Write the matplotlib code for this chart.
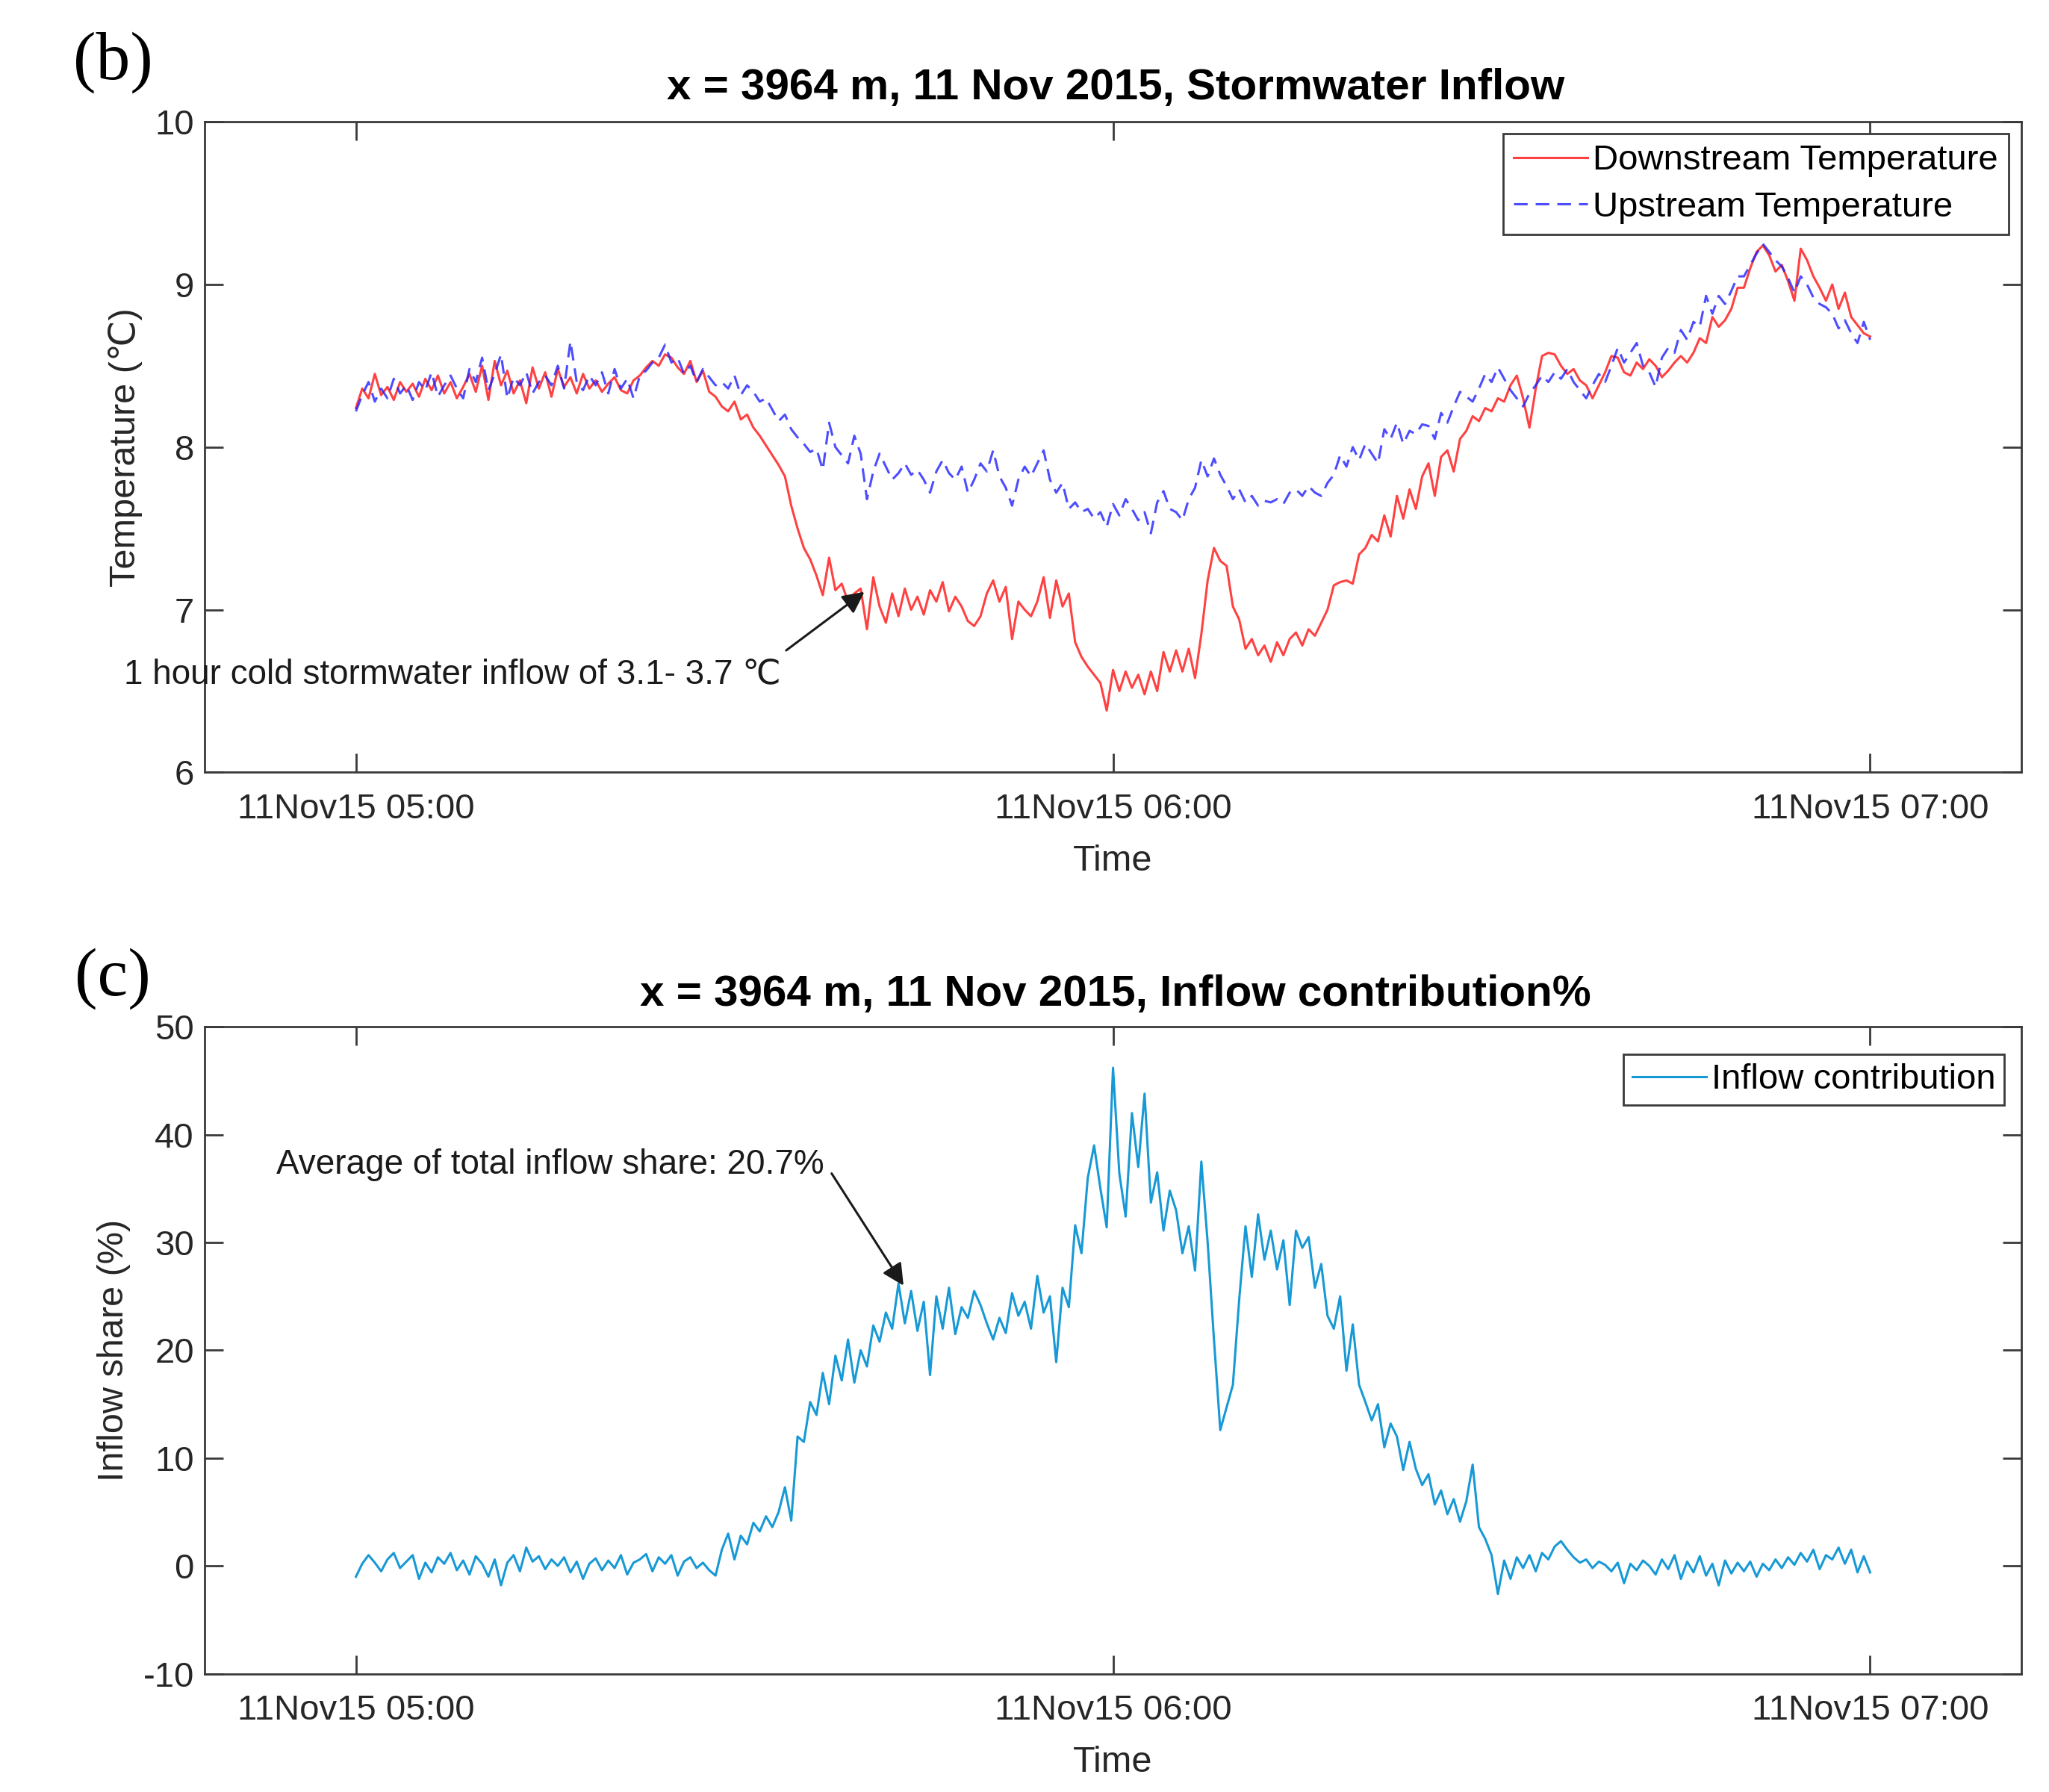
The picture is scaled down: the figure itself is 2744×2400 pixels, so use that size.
import numpy as np
import matplotlib
matplotlib.use('Agg')
import matplotlib.pyplot as plt
import matplotlib.dates as mdates

plt.rcParams['font.family'] = ['Liberation Sans', 'DejaVu Sans']
plt.rcParams['axes.unicode_minus'] = False

# samples every 30 s from 05:00 to 07:00 on 11 Nov 2015
times = np.arange(np.datetime64('2015-11-11T05:00:00'),
                  np.datetime64('2015-11-11T07:00:30'),
                  np.timedelta64(30, 's'))

# downstream temperature (degC)
downstream = [
    8.24, 8.36, 8.30, 8.45, 8.32, 8.37, 8.29, 8.40, 8.34, 8.39,
    8.31, 8.42, 8.35, 8.44, 8.33, 8.40, 8.30, 8.37, 8.45, 8.34,
    8.50, 8.29, 8.53, 8.38, 8.47, 8.33, 8.41, 8.27, 8.49, 8.36,
    8.46, 8.31, 8.48, 8.37, 8.43, 8.33, 8.45, 8.36, 8.41, 8.34,
    8.39, 8.43, 8.35, 8.33, 8.41, 8.44, 8.49, 8.53, 8.50, 8.57,
    8.55, 8.49, 8.45, 8.53, 8.40, 8.47, 8.34, 8.31, 8.25, 8.22,
    8.28, 8.17, 8.20, 8.12, 8.07, 8.01, 7.95, 7.89, 7.82, 7.64,
    7.50, 7.38, 7.31, 7.21, 7.09, 7.32, 7.12, 7.16, 7.05, 7.10,
    7.13, 6.88, 7.20, 7.02, 6.92, 7.10, 6.96, 7.13, 7.00, 7.08,
    6.97, 7.12, 7.05, 7.17, 6.99, 7.08, 7.02, 6.93, 6.90, 6.96,
    7.10, 7.18, 7.05, 7.14, 6.82, 7.05, 7.00, 6.96, 7.05, 7.20,
    6.95, 7.18, 7.02, 7.10, 6.80, 6.71, 6.65, 6.60, 6.55, 6.38,
    6.63, 6.50, 6.62, 6.52, 6.60, 6.48, 6.62, 6.50, 6.74, 6.62,
    6.75, 6.62, 6.76, 6.58, 6.85, 7.18, 7.38, 7.30, 7.27, 7.02,
    6.94, 6.76, 6.82, 6.72, 6.78, 6.68, 6.80, 6.72, 6.82, 6.86,
    6.78, 6.88, 6.84, 6.92, 7.00, 7.15, 7.17, 7.18, 7.16, 7.34,
    7.38, 7.46, 7.42, 7.58, 7.45, 7.70, 7.56, 7.74, 7.62, 7.82,
    7.90, 7.70, 7.94, 7.98, 7.85, 8.05, 8.10, 8.19, 8.16, 8.24,
    8.22, 8.30, 8.28, 8.38, 8.44, 8.30, 8.12, 8.36, 8.56, 8.58,
    8.57, 8.50, 8.45, 8.48, 8.41, 8.38, 8.30, 8.38, 8.46, 8.56,
    8.55, 8.46, 8.44, 8.52, 8.48, 8.54, 8.50, 8.43, 8.47, 8.52,
    8.56, 8.52, 8.58, 8.67, 8.64, 8.80, 8.74, 8.78, 8.85, 8.98,
    8.98, 9.10, 9.20, 9.24, 9.18, 9.08, 9.12, 9.02, 8.90, 9.22,
    9.15, 9.05, 8.98, 8.90, 9.00, 8.85, 8.95, 8.80, 8.75, 8.70,
    8.68,
]

# upstream temperature (degC)
upstream = [
    8.22, 8.32, 8.40, 8.28, 8.36, 8.30, 8.42, 8.33, 8.38, 8.29,
    8.40, 8.35, 8.46, 8.31, 8.38, 8.44, 8.36, 8.30, 8.48, 8.40,
    8.55, 8.35, 8.45, 8.57, 8.30, 8.43, 8.38, 8.46, 8.33, 8.40,
    8.44, 8.38, 8.50, 8.36, 8.65, 8.40, 8.35, 8.44, 8.38, 8.46,
    8.33, 8.48, 8.36, 8.42, 8.30, 8.44, 8.47, 8.52, 8.55, 8.63,
    8.52, 8.55, 8.45, 8.50, 8.40, 8.48, 8.43, 8.38, 8.40, 8.36,
    8.44, 8.32, 8.38, 8.34, 8.28, 8.30, 8.23, 8.16, 8.20, 8.11,
    8.06, 8.02, 7.97, 7.99, 7.86, 8.15, 8.00, 7.95, 7.90, 8.07,
    7.96, 7.68, 7.85, 7.96, 7.88, 7.80, 7.84, 7.90, 7.83, 7.86,
    7.80, 7.72, 7.85, 7.92, 7.84, 7.80, 7.88, 7.72, 7.80, 7.90,
    7.85, 7.98, 7.82, 7.75, 7.64, 7.80, 7.88, 7.82, 7.90, 7.98,
    7.80, 7.72, 7.78, 7.62, 7.66, 7.60, 7.62, 7.56, 7.60, 7.51,
    7.65, 7.58, 7.68, 7.62, 7.55, 7.60, 7.47, 7.66, 7.73, 7.62,
    7.60, 7.55, 7.68, 7.75, 7.92, 7.82, 7.93, 7.83, 7.76, 7.68,
    7.74, 7.66, 7.70, 7.64, 7.67, 7.66, 7.68, 7.65, 7.72, 7.74,
    7.70, 7.76, 7.72, 7.70, 7.78, 7.83, 7.95, 7.88, 8.00, 7.92,
    8.02, 7.96, 7.90, 8.11, 8.05, 8.15, 8.02, 8.10, 8.08, 8.14,
    8.13, 8.05, 8.21, 8.15, 8.25, 8.34, 8.31, 8.28, 8.36, 8.45,
    8.40, 8.49, 8.42, 8.35, 8.30, 8.25, 8.33, 8.38, 8.44, 8.40,
    8.46, 8.42, 8.48, 8.40, 8.35, 8.30, 8.38, 8.45, 8.40, 8.50,
    8.61, 8.52, 8.58, 8.64, 8.50, 8.46, 8.37, 8.55, 8.61, 8.58,
    8.72, 8.66, 8.77, 8.74, 8.93, 8.82, 8.93, 8.88, 8.96, 9.05,
    9.05, 9.12, 9.19, 9.25, 9.20, 9.15, 9.11, 9.04, 8.95, 9.05,
    9.00, 8.92, 8.88, 8.86, 8.82, 8.73, 8.78, 8.70, 8.64, 8.77,
    8.66,
]

# inflow share (%)
inflow = [
    -1.0, 0.2, 1.0, 0.3, -0.5, 0.6, 1.2, -0.2, 0.4, 1.0,
    -1.2, 0.3, -0.6, 0.8, 0.2, 1.2, -0.4, 0.5, -0.8, 0.9,
    0.2, -1.0, 0.6, -1.8, 0.3, 1.0, -0.5, 1.7, 0.4, 0.9,
    -0.3, 0.6, 0.0, 0.8, -0.6, 0.4, -1.2, 0.2, 0.7, -0.4,
    0.5, -0.2, 1.0, -0.8, 0.3, 0.6, 1.1, -0.5, 0.8, 0.2,
    1.0, -0.9, 0.4, 0.8, -0.2, 0.3, -0.4, -0.9, 1.5, 3.0,
    0.6, 2.8, 2.0, 4.0, 3.2, 4.6, 3.6, 5.0, 7.3, 4.2,
    12.0, 11.5, 15.2, 14.0, 17.9, 15.0, 19.5, 17.2, 21.0, 17.0,
    20.0, 18.5, 22.3, 20.8, 23.5, 22.0, 26.2, 22.5, 25.5, 21.8,
    24.5, 17.7, 25.0, 22.0, 25.8, 21.5, 24.0, 23.0, 25.5, 24.2,
    22.5, 21.0, 23.0, 21.6, 25.3, 23.2, 24.5, 22.0, 26.9, 23.5,
    25.0, 18.9, 25.8, 24.0, 31.6, 29.0, 36.0, 39.0, 35.0, 31.4,
    46.2, 36.4, 32.4, 42.0, 37.0, 43.8, 33.7, 36.5, 31.1, 34.8,
    33.0, 29.0, 31.5, 27.4, 37.5, 30.0, 21.0, 12.6, 14.7, 16.8,
    24.7, 31.5, 26.8, 32.6, 28.4, 31.1, 27.5, 30.2, 24.2, 31.1,
    29.5, 30.5, 25.8, 28.0, 23.2, 22.0, 25.0, 18.1, 22.4, 16.8,
    15.2, 13.5, 15.0, 11.0, 13.2, 12.0, 8.9, 11.5, 9.0, 7.5,
    8.5, 5.7, 7.0, 4.8, 6.2, 4.1, 6.0, 9.4, 3.6, 2.5,
    1.0, -2.6, 0.5, -1.2, 0.8, -0.2, 1.0, -0.5, 1.2, 0.6,
    1.8, 2.3, 1.5, 0.8, 0.3, 0.6, -0.2, 0.4, 0.1, -0.5,
    0.3, -1.6, 0.2, -0.4, 0.5, 0.0, -0.8, 0.6, -0.3, 1.0,
    -1.2, 0.4, -0.6, 0.9, -0.9, 0.2, -1.8, 0.5, -0.7, 0.3,
    -0.5, 0.4, -1.0, 0.2, -0.4, 0.6, -0.2, 0.8, 0.1, 1.2,
    0.4, 1.5, -0.3, 1.0, 0.6, 1.7, 0.2, 1.5, -0.6, 0.9,
    -0.6,
]

xticks = [np.datetime64('2015-11-11T05:00'), np.datetime64('2015-11-11T06:00'),
          np.datetime64('2015-11-11T07:00')]
xmin = np.datetime64('2015-11-11T04:48')
xmax = np.datetime64('2015-11-11T07:12')

# annotation anchor points (time, value)
temp_arrow_tip = (np.datetime64('2015-11-11T05:40:18'), 7.11)
temp_arrow_tail = (np.datetime64('2015-11-11T05:34:06'), 6.75)
temp_text_pos = (np.datetime64('2015-11-11T04:41:36'), 6.60)
share_arrow_tip = (np.datetime64('2015-11-11T05:43:24'), 26.0)
share_arrow_tail = (np.datetime64('2015-11-11T05:37:42'), 36.4)
share_text_pos = (np.datetime64('2015-11-11T04:53:42'), 37.2)

fig = plt.figure(figsize=(13.72, 12), dpi=200)
ax1 = fig.add_axes([0.0998, 0.569, 0.8868, 0.363])
ax2 = fig.add_axes([0.0998, 0.066, 0.8868, 0.361])

tick_color = '#262626'
spine_color = '#3a3a3a'


def style_axes(ax):
    ax.set_xlim(xmin, xmax)
    ax.set_xticks(xticks)
    ax.xaxis.set_major_formatter(mdates.DateFormatter('%d%b%y %H:%M'))
    ax.tick_params(direction='in', top=True, right=True, length=9, width=1.0,
                   labelsize=17, colors=spine_color, labelcolor=tick_color)
    ax.tick_params(axis='x', pad=10)
    ax.tick_params(axis='y', pad=5)
    for s in ax.spines.values():
        s.set_color(spine_color)
        s.set_linewidth(1.0)
    ax.set_xlabel('Time', fontsize=17.5, color=tick_color, labelpad=9)


# (b) temperatures
ax1.plot(times, downstream, color='#ff2020', lw=1.1, alpha=0.85,
         label='Downstream Temperature')
ax1.plot(times, upstream, color='#2020ff', lw=1.1, alpha=0.8,
         linestyle=(0, (6, 3.5)), label='Upstream Temperature')
style_axes(ax1)
ax1.set_ylim(6, 10)
ax1.set_yticks([6, 7, 8, 9, 10])
ax1.set_ylabel('Temperature (\u2103)', fontsize=17.5, color=tick_color)
ax1.yaxis.set_label_coords(-0.034, 0.5)
leg1 = ax1.legend(loc='upper right', bbox_to_anchor=(0.9928, 0.982),
                  fontsize=17, frameon=True, fancybox=False,
                  edgecolor='#3a3a3a', framealpha=1, borderaxespad=0,
                  handlelength=2.1, handletextpad=0.15, borderpad=0.3,
                  labelspacing=0.4)
leg1.get_frame().set_linewidth(1.0)

ax1.text(*temp_text_pos, '1 hour cold stormwater inflow of 3.1- 3.7 \u2103',
         fontsize=16.5, color='#1a1a1a', ha='left', va='center', clip_on=False)
ax1.annotate('', xy=temp_arrow_tip, xytext=temp_arrow_tail,
             arrowprops=dict(arrowstyle='-|>', color='#1a1a1a', lw=1.1,
                             mutation_scale=22, shrinkA=0, shrinkB=0),
             annotation_clip=False)

# (c) inflow share
ax2.plot(times, inflow, color='#1799d6', lw=1.1, label='Inflow contribution')
style_axes(ax2)
ax2.set_ylim(-10, 50)
ax2.set_yticks([-10, 0, 10, 20, 30, 40, 50])
ax2.set_ylabel('Inflow share (%)', fontsize=17.5, color=tick_color)
ax2.yaxis.set_label_coords(-0.0405, 0.5)
leg2 = ax2.legend(loc='upper right', bbox_to_anchor=(0.9906, 0.957),
                  fontsize=17, frameon=True, fancybox=False,
                  edgecolor='#3a3a3a', framealpha=1, borderaxespad=0,
                  handlelength=2.1, handletextpad=0.15, borderpad=0.25)
leg2.get_frame().set_linewidth(1.0)

ax2.text(*share_text_pos, 'Average of total inflow share: 20.7%',
         fontsize=16.5, color='#1a1a1a', ha='left', va='center', clip_on=False)
ax2.annotate('', xy=share_arrow_tip, xytext=share_arrow_tail,
             arrowprops=dict(arrowstyle='-|>', color='#1a1a1a', lw=1.1,
                             mutation_scale=22, shrinkA=0, shrinkB=0),
             annotation_clip=False)

# titles and panel letters
fig.text(0.5445, 0.951, 'x = 3964 m, 11 Nov 2015, Stormwater Inflow',
         fontsize=21, fontweight='bold', ha='center', va='center')
fig.text(0.5445, 0.445, 'x = 3964 m, 11 Nov 2015, Inflow contribution%',
         fontsize=21, fontweight='bold', ha='center', va='center')
fig.text(0.055, 0.965, '(b)', fontsize=33, family='Liberation Serif',
         ha='center', va='center')
fig.text(0.055, 0.454, '(c)', fontsize=33, family='Liberation Serif',
         ha='center', va='center')

fig.savefig('out.png', dpi=200)
